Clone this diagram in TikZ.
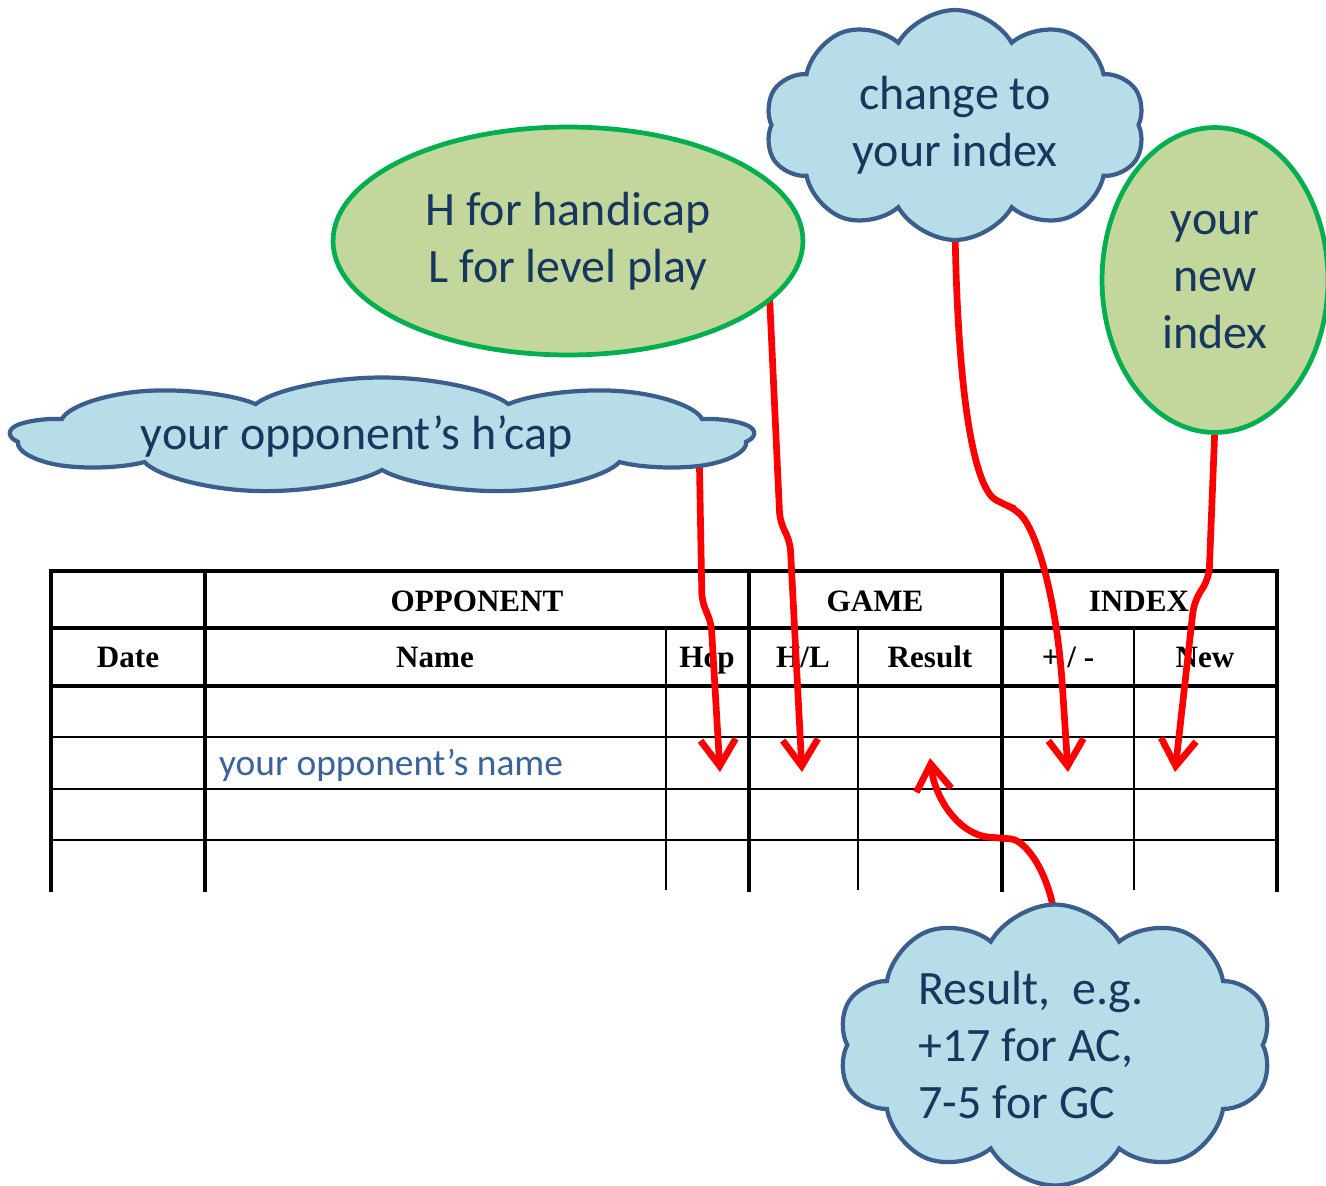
\documentclass[tikz,border=0pt]{standalone}
\usepackage{fontspec}
\setmainfont{Carlito}
\newfontfamily\headfont{Liberation Serif}
\usetikzlibrary{shapes.symbols,shapes.geometric,arrows.meta,calc}

\definecolor{cloudfill}{HTML}{B7DDE8}
\definecolor{cloudline}{HTML}{3B5E8C}
\definecolor{ovalfill}{HTML}{C3D69B}
\definecolor{ovalline}{HTML}{00B050}
\definecolor{notetext}{HTML}{17375E}
\definecolor{nametext}{HTML}{3A6399}

\pgfdeclarelayer{tablelayer}
\pgfdeclarelayer{arrowlayer}
\pgfsetlayers{tablelayer,arrowlayer,main}

\tikzset{
  tabthick/.style={line width=2pt, line cap=rect},
  tabthin/.style={line width=1.1pt},
  headtext/.style={anchor=base, font=\headfont\bfseries\fontsize{17.7}{20}\selectfont},
  notefont/.style={font=\fontsize{27.3}{32.3}\selectfont, text=notetext, align=center},
  bubble/.style={cloud, draw=cloudline, fill=cloudfill, line width=2.4pt,
    cloud ignores aspect, cloud puff arc=120, inner sep=0pt, notefont},
  greenoval/.style={ellipse, draw=ovalline, fill=ovalfill, line width=2.7pt,
    inner sep=0pt, notefont},
  redarrow/.style={draw=red, line width=3.8pt, rounded corners=6pt,
    -{Straight Barb[length=15pt,width=20pt]}},
}

\begin{document}
\begin{tikzpicture}[x=0.02cm,y=-0.02cm]
    \useasboundingbox (0,0) rectangle (1326,1186);

    % the score sheet
    \begin{pgfonlayer}{tablelayer}
        \draw[tabthick] (51,571) -- (1277,571);
        \draw[tabthick] (51,628) -- (1277,628);
        \draw[tabthick] (51,686) -- (1277,686);
        \foreach \y in {737,789,840} \draw[tabthin] (51,\y) -- (1277,\y);
        \foreach \x in {51,205,749,1002,1277} \draw[tabthick] (\x,571) -- (\x,890);
        \foreach \x in {666,858,1134} \draw[tabthin] (\x,628) -- (\x,890);

        \node[headtext] (opp) at (477,611) {OPPONENT};
        \node[headtext] (game) at (875,611) {GAME};
        \node[headtext] (index) at (1139,611) {INDEX};

        \node[headtext] (date) at (128,667) {Date};
        \node[headtext] (name) at (435,667) {Name};
        \node[headtext] (hcp) at (707,667) {Hcp};
        \node[headtext] (hl) at (803,667) {H/L};
        \node[headtext] (result) at (930,667) {Result};
        \node[headtext] (plusminus) at (1068,667) {+ / -};
        \node[headtext] (new) at (1205,667) {New};

        \node[anchor=west, text=nametext, font=\fontsize{21.3}{25}\selectfont] (oppname) at (213,765) {your opponent’s name};
    \end{pgfonlayer}

    % the notes
    \node[greenoval, minimum width=9.4cm, minimum height=4.56cm] (hlnote) at (568,241) {H for handicap\\L for level play};
    \node[greenoval, minimum width=4.52cm, minimum height=6.1cm] (newnote) at (1215,280) {your\\new\\index};
    \node[bubble, cloud puffs=10, minimum width=7.6cm, minimum height=4.6cm] (changenote) at (955,125) {change to\\your index};
    \begin{scope}[shift={(382,436)}, xscale=3.18]
        \node[bubble, transform shape, cloud puffs=9, cloud puff arc=135, minimum width=4.68cm, minimum height=2.34cm] (hcapnote) at (0,0) {};
    \end{scope}
    \node[notefont] (hcaptext) at (357,436) {your opponent’s h’cap};
    \node[bubble, cloud puffs=10, minimum width=8.68cm, minimum height=5.62cm, align=left] (resultnote) at (1055,1045) {Result,\ \ e.g.\hspace*{0.96cm}\\+17 for AC,\\7-5 for GC};

    % the arrows
    \coordinate (hcapfoot) at (699,440);
    \coordinate (hcptip) at (720,772);
    \coordinate (hltip) at (802,772);
    \coordinate (changetip) at (1068,772);
    \coordinate (newtip) at (1175,772);
    \coordinate (resulttip) at (930,758);
    \begin{pgfonlayer}{arrowlayer}
        \draw[redarrow] (hcapfoot) -- (702,604) -- (711,620) -- (hcptip);
        \draw[redarrow] ($(hlnote.-17)+(0,-10)$) -- (780,523) -- (790,540) -- (hltip);
        \draw[redarrow] ($(changenote.south)+(0,-15)$) .. controls (958,420) and (978,490) .. (1005,505)
            -- (1018,510) .. controls (1042,545) and (1056,610) .. (1062,680) -- (changetip);
        \draw[redarrow] ($(newnote.south)+(0,-10)$) -- (1209,578) -- (1194,602) -- (newtip);
        \draw[redarrow] ($(resultnote.north)+(0,15)$) .. controls (1048,870) and (1025,840) .. (1000,838)
            .. controls (960,835) and (935,800) .. (resulttip);
    \end{pgfonlayer}
\end{tikzpicture}
\end{document}
